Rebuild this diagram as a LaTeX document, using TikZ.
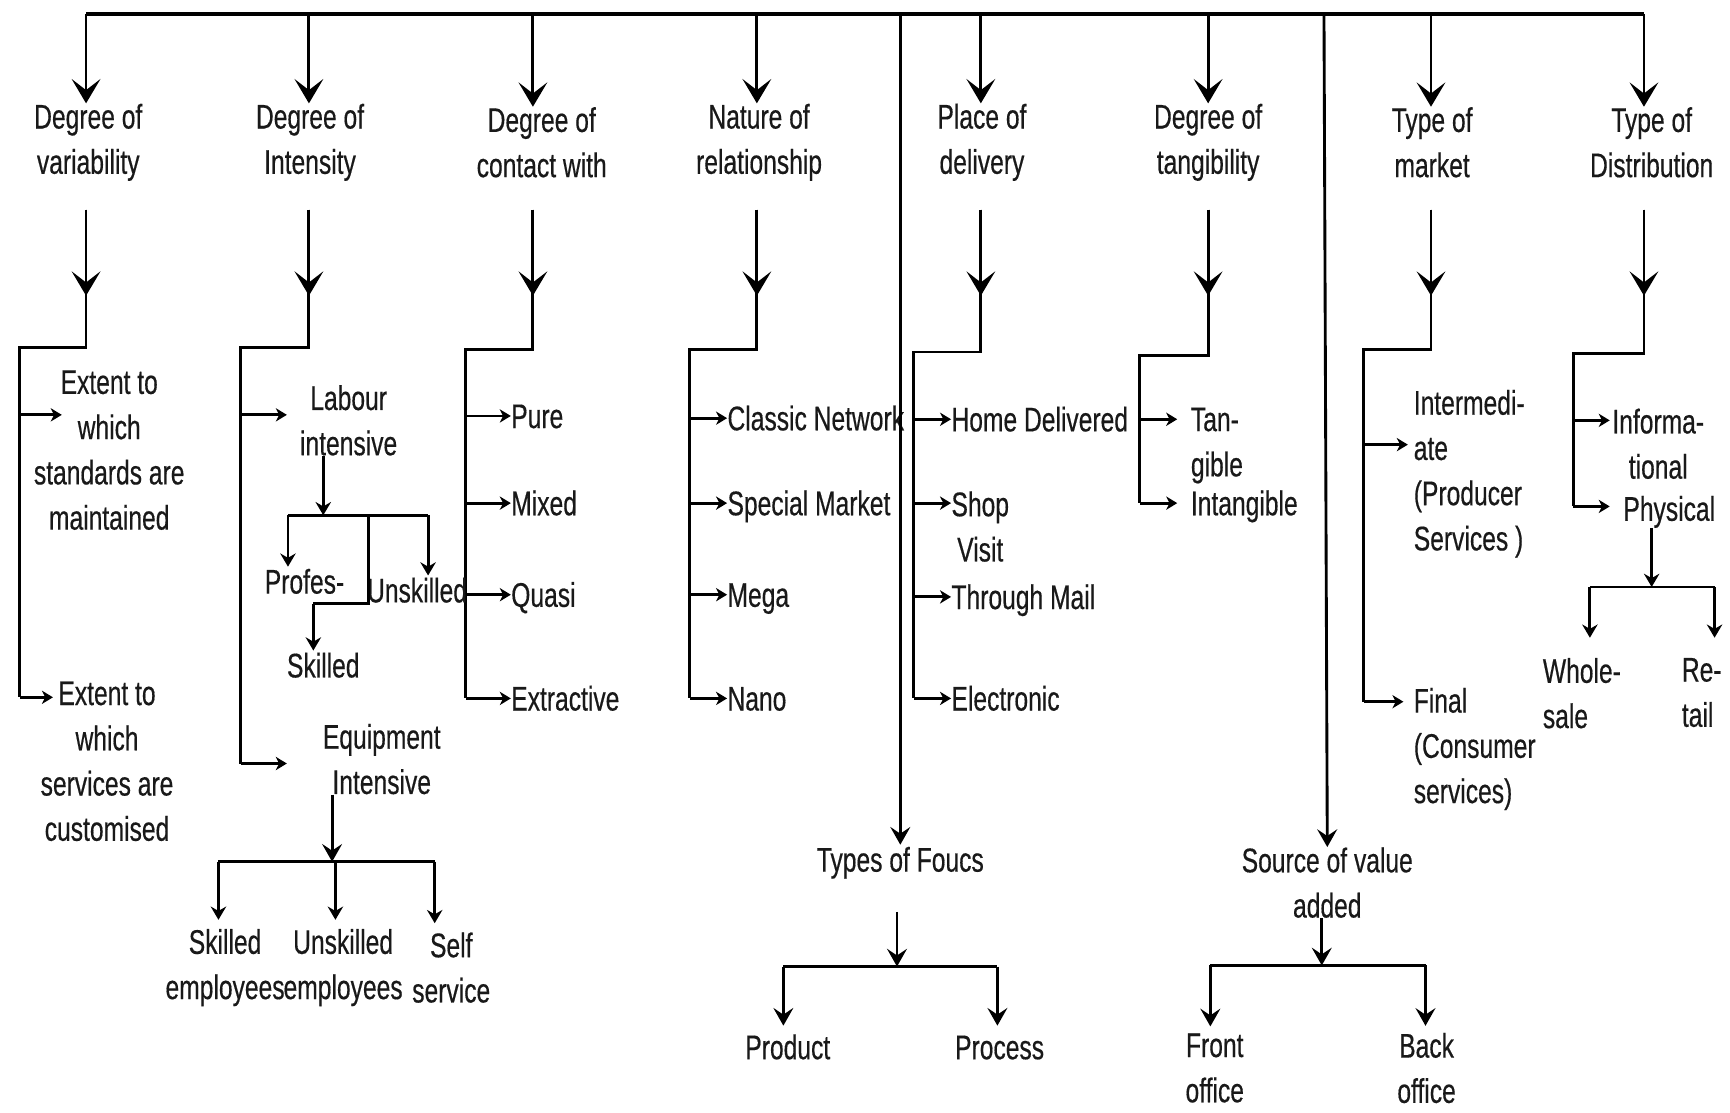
\documentclass[tikz,border=0pt]{standalone}
\usepackage{fontspec}
\setmainfont{Liberation Sans}[FakeStretch=0.72,FakeBold=0.4]
\usetikzlibrary{arrows.meta,calc}
\tikzset{
  lbl/.style={font=\fontsize{15.5}{20.5}\selectfont, align=center, inner sep=0pt, text=black!90},
  lbll/.style={lbl, align=left},
  sl/.style={lbl, text height=12pt, text depth=1pt},
  one/.style={sl, anchor=west},
  ln/.style={line width=1.3pt, black},
  barline/.style={line width=1.8pt, black},
  bigarr/.style={ln, -{Stealth[length=11pt,width=13pt,inset=5pt]}},
  midarr/.style={ln, -{Stealth[length=8pt,width=9pt,inset=3pt]}},
  subarr/.style={ln, -{Stealth[length=6pt,width=7pt,inset=2pt]}},
  smallarr/.style={ln, -{Stealth[length=5pt,width=6pt,inset=1.5pt]}},
}
\begin{document}
\begin{tikzpicture}[x=0.5pt,y=-0.5pt]
\fill[white] (0,0) rectangle (1568,1008);
\useasboundingbox (0,0) rectangle (1568,1008);

% ---------- titles ----------
\node[lbl] (t1) at (80,129) {Degree of\\variability};
\node[lbl] (t2) at (281,129) {Degree of\\Intensity};
\node[lbl] (t3) at (491,129) {Degree of\\contact with};
\node[lbl] (t4) at (688,129) {Nature of\\relationship};
\node[lbl] (t5) at (890,129) {Place of\\delivery};
\node[lbl] (t6) at (1095,129) {Degree of\\tangibility};
\node[lbl] (t7) at (1298,129) {Type of\\market};
\node[lbl] (t8) at (1497,129) {Type of\\Distribution};

% ---------- column skeleton ----------
\foreach \i/\cx/\lx/\cy/\by in {1/78/18/315/632, 2/280/218/315/692, 3/483/422/317/633, 4/686/625/317/633, 5/889/828/319/633, 6/1095/1033/322/456, 7/1297/1236/317/636, 8/1490/1426/320/459}{
  \coordinate (top\i) at (\cx,13);
  \coordinate (s\i) at (\cx,190);
  \coordinate (m\i) at (\cx,268);
  \coordinate (k\i) at (\cx,\cy);
  \coordinate (e\i) at (\lx,\by);
}
\coordinate (L1) at (816,13);
\coordinate (L2) at (1200,13);
\draw[barline] (top1) -- (top8);
\foreach \i in {1,...,8}{
  \draw[bigarr] (top\i) -- (top\i |- t\i.north);
  \draw[ln] (s\i) -- (k\i) -| (e\i);
  \draw[bigarr] (s\i) -- (m\i);
}

% ---------- column 1 ----------
\node[lbl] (ex1) at (99,408) {Extent to\\which\\standards are\\maintained};
\node[lbl] (ex2) at (97,690) {Extent to\\which\\services are\\customised};
\coordinate (ex1a) at (56,376);
\coordinate (ex2a) at (48,632);
\draw[smallarr] (e1 |- ex1a) -- (ex1a);
\draw[smallarr] (e1) -- (ex2a);

% ---------- column 2 ----------
\node[lbl] (lab) at (316,381) {Labour\\intensive};
\node[sl] (prof) at (276,527) {Profes-};
\node[sl] (unsk) at (378,535) {Unskilled};
\node[sl] (skl) at (293,603) {Skilled};
\node[lbl] (eqp) at (346,688) {Equipment\\Intensive};
\node[lbl] (se) at (204,877) {Skilled\\employees};
\node[lbl] (ue) at (311,877) {Unskilled\\employees};
\node[lbl] (ss) at (409,877) {Self\\service};
\coordinate (laba) at (260,376);
\coordinate (eqpa) at (260,692);
\draw[smallarr] (e2 |- laba) -- (laba);
\draw[smallarr] (e2) -- (eqpa);
% labour subtree
\coordinate (lj) at (293,467);
\coordinate (lja) at (261,467);
\coordinate (ljb) at (388,467);
\coordinate (ljm) at (334,467);
\coordinate (ljs) at (284,547);
\draw[subarr] (lab.south -| lj) -- (lj);
\draw[ln] (lja) -- (ljb);
\draw[subarr] (lja) -- (lja |- prof.north);
\draw[subarr] (ljb) -- (ljb |- unsk.north);
\draw[ln] (ljm) |- (ljs);
\draw[subarr] (ljs) -- (ljs |- skl.north);
% equipment subtree
\coordinate (ej) at (301,781);
\coordinate (eja) at (198,781);
\coordinate (ejm) at (304,781);
\coordinate (ejb) at (394,781);
\draw[midarr] (eqp.south -| ej) -- (ej);
\draw[ln] (eja) -- (ejb);
\draw[subarr, shorten >=4pt] (eja) -- (eja |- se.north);
\draw[subarr, shorten >=4pt] (ejm) -- (ejm |- ue.north);
\draw[subarr, shorten >=4pt] (ejb) -- (ejb |- ss.north);

% ---------- column 3 ----------
\node[one] (pure) at (463,377) {Pure};
\node[one] (mixed) at (463,456) {Mixed};
\node[one] (quasi) at (463,539) {Quasi};
\node[one] (extr) at (463,633) {Extractive};
\foreach \n in {pure,mixed,quasi,extr} \draw[smallarr] (e3 |- \n.west) -- (\n.west);

% ---------- column 4 ----------
\node[one] (classic) at (659,379) {Classic Network};
\node[one] (special) at (659,456) {Special Market};
\node[one] (mega) at (659,539) {Mega};
\node[one] (nano) at (659,633) {Nano};
\foreach \n in {classic,special,mega,nano} \draw[smallarr] (e4 |- \n.west) -- (\n.west);

% ---------- column 5 ----------
\node[one] (home) at (862,380) {Home Delivered};
\node[lbl, anchor=north west] (shop) at (862,445) {Shop\\Visit};
\node[one] (mail) at (862,541) {Through Mail};
\node[one] (elec) at (862,633) {Electronic};
\coordinate (shopa) at ($(shop.north west)+(0,11)$);
\foreach \n in {home,shopa,mail,elec} \draw[smallarr] (e5 |- \n.west) -- (\n.west);

% ---------- column 6 ----------
\node[lbll, anchor=north west] (tan) at (1079,369) {Tan-\\gible};
\node[one] (intang) at (1079,456) {Intangible};
\coordinate (tana) at (1067,380);
\draw[smallarr] (e6 |- tana) -- (tana);
\draw[smallarr, shorten >=6pt] (e6) -- (intang.west);

% ---------- column 7 ----------
\node[lbll, anchor=north west] (inter) at (1281,353) {Intermedi-\\ate\\(Producer\\Services )};
\node[lbll, anchor=north west] (final) at (1281,623) {Final\\(Consumer\\services)};
\coordinate (intera) at (1276,403);
\coordinate (finala) at (1272,636);
\draw[smallarr] (e7 |- intera) -- (intera);
\draw[smallarr] (e7) -- (finala);

% ---------- column 8 ----------
\node[lbl, anchor=north west] (info) at (1461,370) {Informa-\\tional};
\node[one] (phys) at (1471,461) {Physical};
\coordinate (infoa) at (1459,381);
\coordinate (physa) at (1459,459);
\draw[smallarr] (e8 |- infoa) -- (infoa);
\draw[smallarr] (e8) -- (physa);
\node[lbll, anchor=north west] (whole) at (1398,596) {Whole-\\sale};
\node[lbll, anchor=north west] (retail) at (1524,596) {Re-\\tail};
\coordinate (pj) at (1497,532);
\coordinate (pja) at (1441,532);
\coordinate (pjb) at (1554,532);
\draw[subarr] (phys.south -| pj) ++(0,4) -- (pj);
\draw[ln] (pja) -- (pjb);
\draw[subarr, shorten >=9pt] (pja) -- (pja |- whole.north);
\draw[subarr, shorten >=9pt] (pjb) -- (pjb |- retail.north);

% ---------- types of focus ----------
\node[sl] (tf) at (816,779) {Types of Foucs};
\node[sl] (prod) at (714,949) {Product};
\node[sl] (proc) at (906,949) {Process};
\draw[midarr] (L1) -- (tf.north);
\coordinate (tj) at (813,876);
\coordinate (tja) at (710,876);
\coordinate (tjb) at (904,876);
\draw[midarr, shorten <=17pt] (tf.south -| tj) -- (tj);
\draw[ln] (tja) -- (tjb);
\draw[midarr, shorten >=3pt] (tja) -- (tja |- prod.north);
\draw[midarr, shorten >=3pt] (tjb) -- (tjb |- proc.north);

% ---------- source of value added ----------
\node[lbl] (sv) at (1203,800) {Source of value\\added};
\node[lbl] (front) at (1101,968) {Front\\office};
\node[lbl] (back) at (1293,968) {Back\\office};
\draw[midarr] (L2) -- (sv.north);
\coordinate (sj) at (1198,875);
\coordinate (sja) at (1097,875);
\coordinate (sjb) at (1292,875);
\draw[midarr] (sv.south -| sj) -- (sj);
\draw[ln] (sja) -- (sjb);
\draw[midarr, shorten >=3pt] (sja) -- (sja |- front.north);
\draw[midarr, shorten >=3pt] (sjb) -- (sjb |- back.north);
\end{tikzpicture}
\end{document}
